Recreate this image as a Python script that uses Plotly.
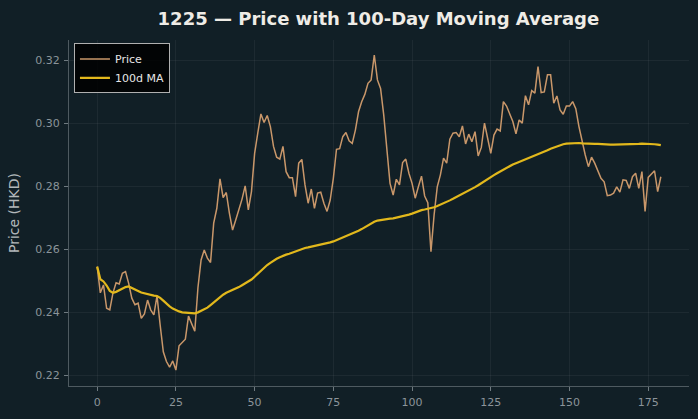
import plotly.graph_objects as go

days = list(range(180))

price = [
0.2545,0.2462,0.2487,0.2413,0.2408,0.2461,0.2494,0.2490,0.2524,0.2529,
0.2492,0.2445,0.2424,0.2429,0.2381,0.2395,0.2439,0.2408,0.2392,0.2452,
0.2360,0.2275,0.2244,0.2226,0.2246,0.2217,0.2294,0.2304,0.2315,0.2388,
0.2363,0.2340,0.2478,0.2566,0.2598,0.2572,0.2558,0.2683,0.2730,0.2823,
0.2764,0.2780,0.2714,0.2661,0.2693,0.2725,0.2759,0.2801,0.2725,0.2783,
0.2904,0.2968,0.3029,0.3002,0.3024,0.2989,0.2926,0.2892,0.2886,0.2926,
0.2846,0.2827,0.2827,0.2767,0.2873,0.2885,0.2804,0.2746,0.2791,0.2730,
0.2778,0.2781,0.2746,0.2720,0.2756,0.2825,0.2917,0.2919,0.2957,0.2970,
0.2944,0.2936,0.2978,0.3036,0.3068,0.3091,0.3126,0.3137,0.3216,0.3137,
0.3110,0.3026,0.2904,0.2809,0.2772,0.2822,0.2804,0.2875,0.2886,0.2841,
0.2809,0.2762,0.2798,0.2832,0.2769,0.2748,0.2592,0.2709,0.2798,0.2836,
0.2889,0.2873,0.2949,0.2968,0.2970,0.2957,0.2991,0.2934,0.2965,0.2941,
0.2973,0.2896,0.2923,0.3000,0.2952,0.2904,0.2962,0.2981,0.2975,0.3068,
0.3054,0.3031,0.3005,0.2966,0.3010,0.3000,0.3087,0.3058,0.3103,0.3095,
0.3179,0.3097,0.3099,0.3153,0.3153,0.3063,0.3086,0.3042,0.3028,0.3054,
0.3054,0.3068,0.3046,0.2989,0.2941,0.2899,0.2862,0.2892,0.2873,0.2851,
0.2825,0.2814,0.2770,0.2772,0.2778,0.2798,0.2781,0.2820,0.2818,0.2793,
0.2830,0.2841,0.2793,0.2846,0.2720,0.2828,0.2838,0.2849,0.2783,0.2830,
]

ma100 = [
0.2545,0.2505,0.2498,0.2485,0.2468,0.2462,0.2465,0.2470,0.2475,0.2480,
0.2482,0.2478,0.2473,0.2468,0.2463,0.2460,0.2458,0.2455,0.2453,0.2452,
0.2446,0.2437,0.2427,0.2419,0.2412,0.2407,0.2403,0.2400,0.2399,0.2398,
0.2397,0.2397,0.2400,0.2405,0.2409,0.2415,0.2423,0.2432,0.2441,0.2450,
0.2456,0.2462,0.2466,0.2471,0.2476,0.2480,0.2486,0.2492,0.2498,0.2504,
0.2513,0.2523,0.2533,0.2542,0.2550,0.2557,0.2564,0.2570,0.2575,0.2580,
0.2583,0.2586,0.2590,0.2594,0.2598,0.2601,0.2604,0.2606,0.2608,0.2610,
0.2613,0.2615,0.2617,0.2619,0.2622,0.2625,0.2629,0.2633,0.2637,0.2641,
0.2645,0.2649,0.2654,0.2659,0.2664,0.2670,0.2676,0.2682,0.2687,0.2691,
0.2693,0.2695,0.2696,0.2697,0.2698,0.2700,0.2702,0.2704,0.2707,0.2710,
0.2713,0.2717,0.2721,0.2724,0.2726,0.2728,0.2730,0.2733,0.2737,0.2741,
0.2745,0.2750,0.2755,0.2760,0.2765,0.2770,0.2775,0.2780,0.2785,0.2791,
0.2797,0.2803,0.2810,0.2816,0.2822,0.2829,0.2835,0.2841,0.2847,0.2853,
0.2859,0.2864,0.2869,0.2873,0.2877,0.2881,0.2885,0.2889,0.2893,0.2896,
0.2900,0.2904,0.2909,0.2914,0.2919,0.2923,0.2927,0.2930,0.2933,0.2935,
0.2936,0.2937,0.2937,0.2937,0.2936,0.2935,0.2935,0.2934,0.2934,0.2934,
0.2933,0.2933,0.2933,0.2932,0.2932,0.2932,0.2932,0.2932,0.2933,0.2933,
0.2933,0.2934,0.2934,0.2935,0.2935,0.2935,0.2934,0.2933,0.2932,0.2930,
]

x_ticks = [0, 25, 50, 75, 100, 125, 150, 175]
y_ticks = [0.22, 0.24, 0.26, 0.28, 0.30, 0.32]
y_tick_labels = ["0.22", "0.24", "0.26", "0.28", "0.30", "0.32"]

BG = "#111f26"
FONT = "DejaVu Sans"

fig = go.Figure()
fig.add_trace(go.Scatter(x=days, y=price, mode="lines", name="Price",
                         line=dict(color="#c9976a", width=1.5)))
fig.add_trace(go.Scatter(x=days, y=ma100, mode="lines", name="100d MA",
                         line=dict(color="#e2b81c", width=2.2)))

fig.update_layout(
    width=698, height=419,
    margin=dict(l=69, r=9, t=40, b=33),
    paper_bgcolor=BG, plot_bgcolor=BG,
    font=dict(family=FONT, color="#8b949a", size=11),
    title=dict(text="<b>1225 — Price with 100-Day Moving Average</b>",
               x=0.5421, xanchor="center", y=0.955, yanchor="middle",
               font=dict(family=FONT, size=18, color="#efece6")),
    legend=dict(x=0.008, y=0.99, xanchor="left", yanchor="top",
                bgcolor="rgba(0,0,0,0.85)", bordercolor="#b0b0b0", borderwidth=1,
                font=dict(family=FONT, size=11, color="#e6e6e6"),
                itemwidth=30, tracegroupgap=0),
    showlegend=True,
)
fig.update_xaxes(range=[-8.95, 187.95], tickvals=x_ticks, showgrid=True,
                 gridcolor="rgba(255,255,255,0.05)", gridwidth=1, zeroline=False,
                 showline=True, linecolor="#4e5a60", linewidth=1,
                 ticks="outside", ticklen=4, tickcolor="#6f7a80",
                 ticklabelstandoff=2,
                 tickfont=dict(size=11, color="#8b949a"))
fig.update_yaxes(range=[0.21665, 0.32635], tickvals=y_ticks, ticktext=y_tick_labels,
                 showgrid=True, gridcolor="rgba(255,255,255,0.05)", gridwidth=1,
                 zeroline=False, showline=True, linecolor="#4e5a60", linewidth=1,
                 ticks="outside", ticklen=4, tickcolor="#6f7a80",
                 ticklabelstandoff=2,
                 tickfont=dict(size=11, color="#8b949a"),
                 title=dict(text="Price (HKD)", standoff=12,
                            font=dict(family=FONT, size=14, color="#b3b8bb")))

fig.write_html("out.html")
